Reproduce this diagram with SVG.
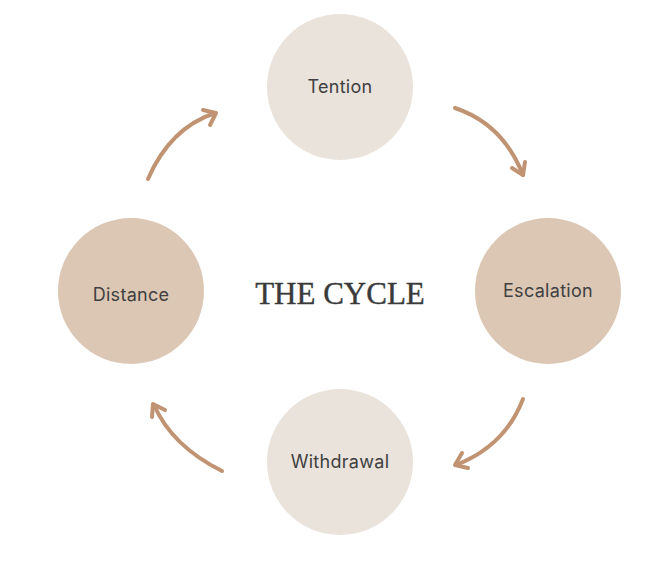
<svg xmlns="http://www.w3.org/2000/svg" width="651" height="561" viewBox="0 0 651 561">
<style>
.light{fill:#e9e3dc}
.dark{fill:#dcc7b4}
.lbl{font-family:Inter,"Open Sans","Liberation Sans",sans-serif;font-size:18px;fill:#404040;text-anchor:middle;letter-spacing:0.3px}
.title{font-family:"Liberation Serif","DejaVu Serif",serif;font-size:31px;fill:#3a3a3a;stroke:#3a3a3a;stroke-width:0.4;text-anchor:middle}
.arr{fill:none;stroke:#c09472;stroke-width:4;stroke-linecap:round;stroke-linejoin:round}
</style>
<rect width="651" height="561" fill="#ffffff"/>
<g id="tention"><circle class="light" cx="340" cy="87" r="73"/><text class="lbl" x="340" y="93">Tention</text></g>
<g id="escalation"><circle class="dark" cx="548" cy="291" r="73"/><text class="lbl" x="548" y="297">Escalation</text></g>
<g id="withdrawal"><circle class="light" cx="340" cy="462" r="73"/><text class="lbl" x="340" y="468">Withdrawal</text></g>
<g id="distance"><circle class="dark" cx="131" cy="291" r="73"/><text class="lbl" x="131" y="301">Distance</text></g>
<g id="title"><text class="title" x="340" y="304">THE CYCLE</text></g>
<g id="connectors">
<path class="arr" d="M455 108 Q503 124 523 175"/>
<path class="arr" d="M512 168 L523 175 L525 162"/>
<path class="arr" d="M148 179 Q170 128 215 113"/>
<path class="arr" d="M203 110 L216 113 L210 125"/>
<path class="arr" d="M523 399 Q505 446 456 465"/>
<path class="arr" d="M462 453 L455 465 L468 468"/>
<path class="arr" d="M222 471 Q172 446 154 405"/>
<path class="arr" d="M152 417 L153 404 L165 410"/>
</g>
</svg>
